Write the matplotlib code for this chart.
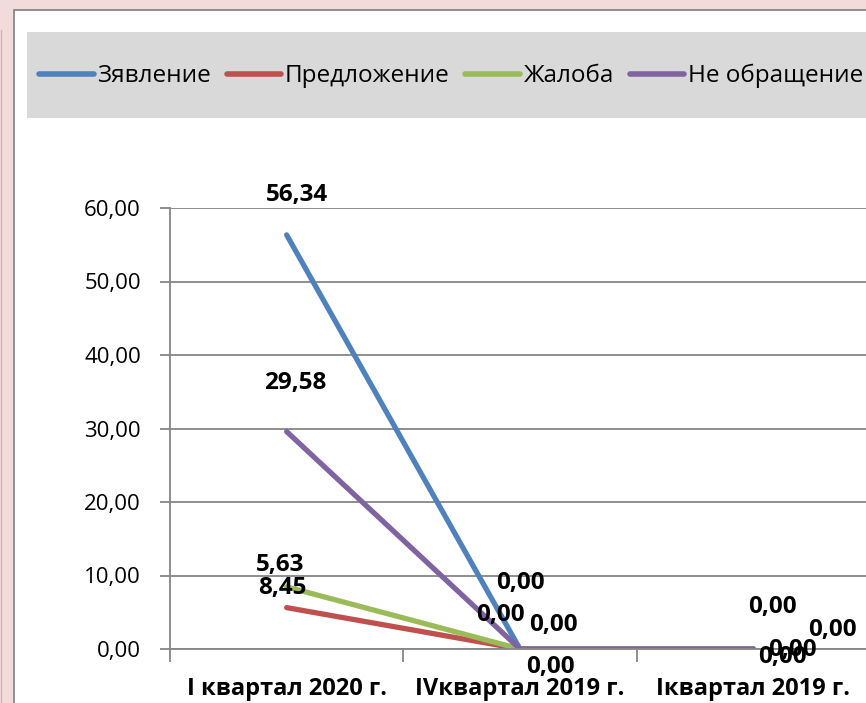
import matplotlib
matplotlib.use("Agg")
import matplotlib.pyplot as plt
from matplotlib.patches import Rectangle
from matplotlib.ticker import FuncFormatter

plt.rcParams['font.family'] = ['Open Sans', 'DejaVu Sans']

categories = ['I квартал 2020 г.', 'IVквартал 2019 г.', 'Iквартал 2019 г.']
zayavlenie = [56.34, 0.00, 0.00]
predlozhenie = [5.63, 0.00, 0.00]
zhaloba = [8.45, 0.00, 0.00]
ne_obrashchenie = [29.58, 0.00, 0.00]
series_names = ['Зявление', 'Предложение', 'Жалоба', 'Не обращение']

colors = ['#4f81bd', '#c0504d', '#9bbb59', '#8064a2']
# label offsets in pixels (dx, dy) per point, as in the original layout
label_offsets = [
    [(10, 40), (0, 66), (19, 42)],
    [(-7, 43), (-20, 34), (29, -8)],
    [(-4, -1), (33, 24), (39, -1)],
    [(9, 49), (30, -18), (79, 19)],
]

W, H = 866, 703
fig = plt.figure(figsize=(W / 100, H / 100), dpi=100)
fig.patch.set_facecolor('#f2dcdb')

# chart area and legend band
fig.patches.append(Rectangle((14 / W, -0.1), 1.2, (H - 10) / H + 0.1, transform=fig.transFigure,
                             facecolor='white', edgecolor='#7f7f7f', linewidth=1.2, zorder=-3))
fig.patches.append(Rectangle((27 / W, (H - 118) / H), 1.0, 86 / H, transform=fig.transFigure,
                             facecolor='#d9d9d9', edgecolor='none', zorder=-2))
fig.lines.append(plt.Line2D([1 / W, 1 / W], [0, (H - 30) / H], transform=fig.transFigure,
                            color='#c9b8b8', linewidth=1, zorder=-2))

ax = fig.add_axes([170 / W, 54 / H, 700 / W, 441 / H])
ax.set_facecolor('none')

x = range(len(categories))
all_series = [zayavlenie, predlozhenie, zhaloba, ne_obrashchenie]
for vals, name, c in zip(all_series, series_names, colors):
    ax.plot(x, vals, color=c, linewidth=3.8, label=name, solid_capstyle='round')

for vals, c, offs in zip(all_series, colors, label_offsets):
    for i, v in enumerate(vals):
        ax.annotate(f"{v:.2f}".replace('.', ','), (i, v), xytext=offs[i],
                    textcoords='offset pixels', ha='center', va='center',
                    fontsize=17.5, fontweight='bold', color='black', zorder=5,
                    annotation_clip=False)

ax.set_xlim(-0.5, 2.5)
ax.set_ylim(0, 60)
ax.set_yticks(range(0, 61, 10))
ax.yaxis.set_major_formatter(FuncFormatter(lambda v, p: f"{v:.2f}".replace('.', ',')))
ax.grid(axis='y', color='#868686', linewidth=1.3)
ax.set_axisbelow(True)

ax.set_xticks(list(x))
ax.set_xticklabels(categories, fontsize=17, fontweight='bold')
ax.set_xticks([-0.5, 0.5, 1.5, 2.5], minor=True)
ax.tick_params(axis='x', which='major', length=0, pad=20)
ax.tick_params(axis='x', which='minor', length=9, width=1.3, color='#868686', direction='out')
ax.tick_params(axis='y', length=7, width=1.3, color='#868686', labelsize=16, pad=14)

for side in ['top', 'right']:
    ax.spines[side].set_visible(False)
ax.spines['left'].set_color('#868686')
ax.spines['bottom'].set_color('#868686')
ax.spines['left'].set_linewidth(1.3)
ax.spines['bottom'].set_linewidth(1.3)

leg = fig.legend(loc='center left', bbox_to_anchor=(39 / W, (H - 76) / H), ncol=4,
                 frameon=False, fontsize=17.5, handlelength=2.25, handletextpad=0.15,
                 columnspacing=0.64, borderaxespad=0, borderpad=0)
for line in leg.get_lines():
    line.set_linewidth(4)

fig.savefig('out.png', dpi=100, facecolor=fig.get_facecolor())
